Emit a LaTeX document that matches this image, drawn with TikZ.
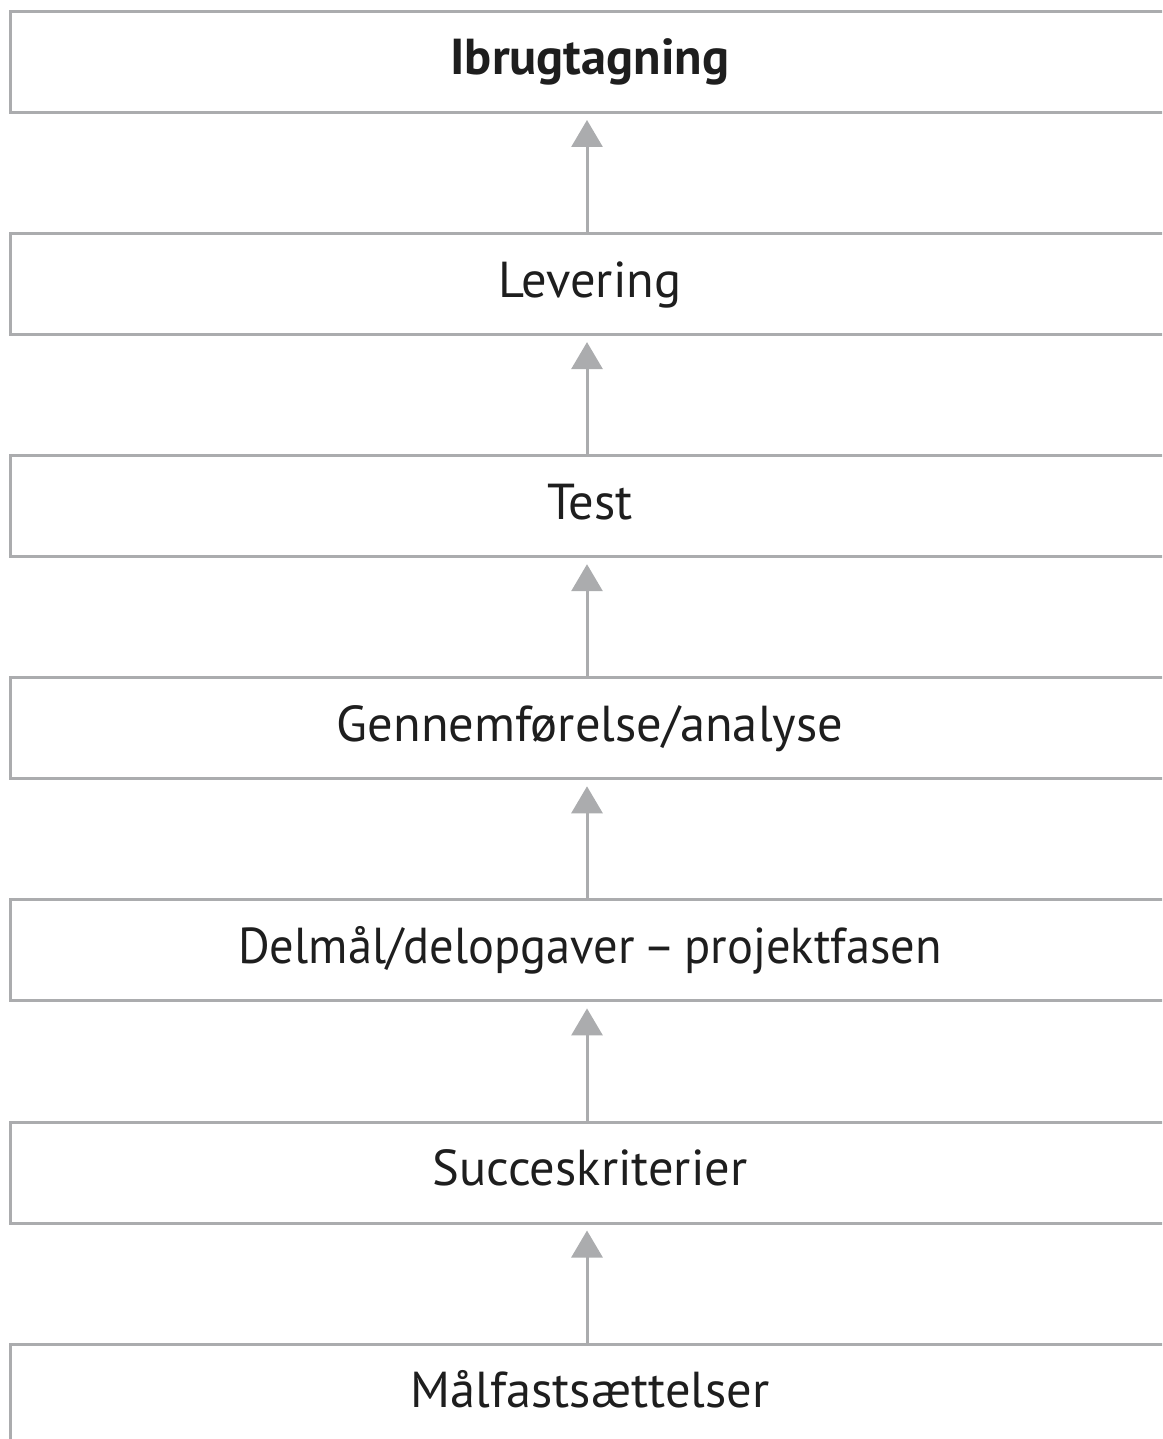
\documentclass[tikz,border=0pt]{standalone}
\usepackage{fontspec}
\setmainfont{PT Sans}
\usetikzlibrary{arrows.meta}
\definecolor{rulegray}{HTML}{ABACAE}
\definecolor{inkblack}{HTML}{1E1E1E}
\tikzset{
  stagebox/.style={draw=rulegray, line width=3pt, rectangle, outer sep=0pt,
    minimum width=1160pt, minimum height=101pt, inner sep=0pt,
    text height=40pt, text depth=14pt, text=inkblack,
    font=\fontsize{50.5}{52}\selectfont},
  uparrow/.style={draw=rulegray, line width=3pt,
    -{Triangle[width=31pt,length=27pt]}, shorten >=7.5pt},
}
\begin{document}
\begin{tikzpicture}[x=1pt,y=-1pt]
  \useasboundingbox (0,0) rectangle (1162,1439);
  \clip (0,0) rectangle (1162,1439);
  % stages, from the top down
  \node[stagebox, font=\fontsize{50.5}{52}\selectfont\bfseries] (s1) at (590,62) {Ibrugtagning};
  \node[stagebox] (s2) at (590,284.1) {Levering};
  \node[stagebox] (s3) at (590,506.2) {Test};
  \node[stagebox] (s4) at (590,728.3) {Gennemførelse/analyse};
  \node[stagebox, font=\fontsize{50.5}{52}\selectfont\addfontfeature{FakeStretch=0.96}] (s5) at (590,950.4)
    {Delmål/delopgaver\hspace{0.18em}–\hspace{0.18em}projektfasen};
  \node[stagebox] (s6) at (590,1172.5) {Succeskriterier};
  \node[stagebox] (s7) at (590,1394.6) {Målfastsættelser};
  % upward arrows between consecutive stages
  \foreach \lo/\hi in {s2/s1,s3/s2,s4/s3,s5/s4,s6/s5,s7/s6}
    \draw[uparrow] ([xshift=-3pt]\lo.north) -- ([xshift=-3pt]\hi.south);
\end{tikzpicture}
\end{document}
